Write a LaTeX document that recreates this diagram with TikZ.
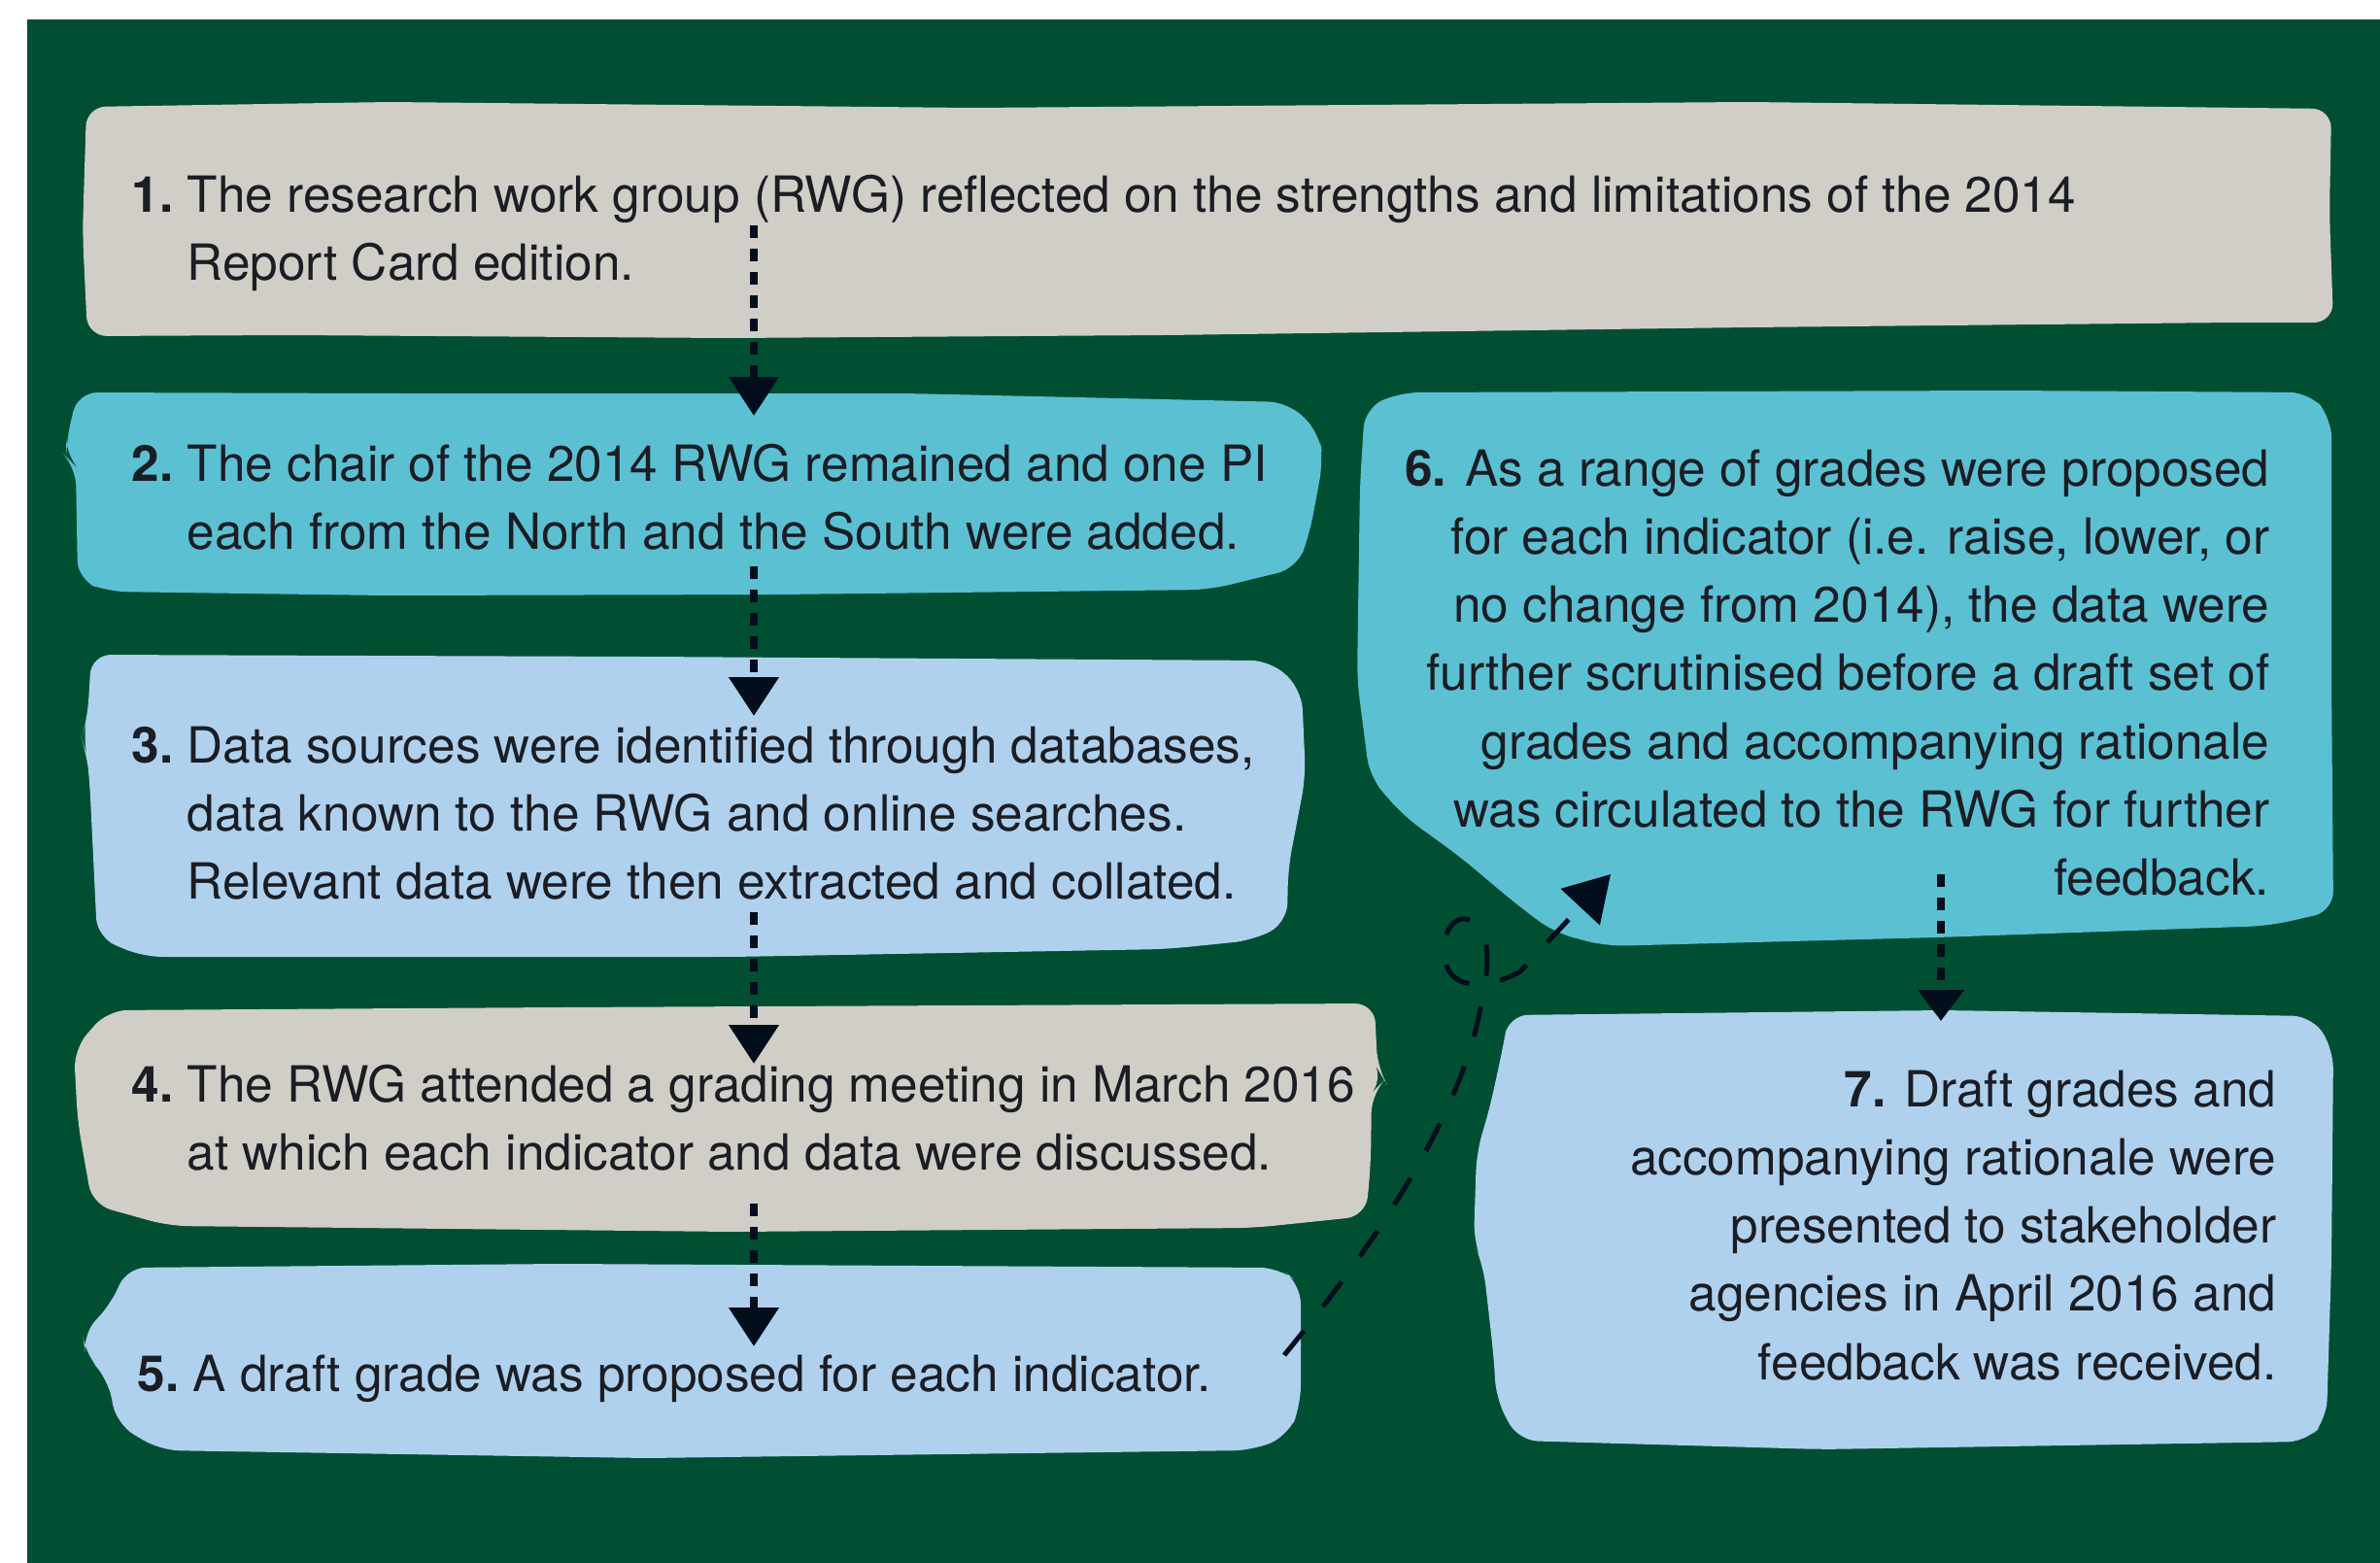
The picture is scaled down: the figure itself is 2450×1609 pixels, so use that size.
\documentclass[tikz,border=0pt]{standalone}
\usepackage{fontspec}
\setmainfont{TeX Gyre Heros}
\usetikzlibrary{arrows.meta}
\definecolor{bggreen}{HTML}{004F32}
\definecolor{boxgray}{HTML}{D1CEC7}
\definecolor{boxcyan}{HTML}{5CC0D3}
\definecolor{boxblue}{HTML}{AFD1EE}
\definecolor{txt}{HTML}{1B1D24}
\definecolor{arrowc}{HTML}{020E1C}
\tikzset{
  boxshape/.style={rounded corners=2mm},
  steptext/.style={inner sep=0pt, text=txt, font=\fontsize{14.6pt}{20pt}\selectfont},
  flow/.style={draw=arrowc, line width=0.8mm, dash pattern=on 1.25mm off 1.15mm,
    -{Triangle[length=4mm,width=5mm]}},
  smallflow/.style={draw=arrowc, line width=0.8mm, dash pattern=on 1.25mm off 1.15mm,
    -{Triangle[length=3.2mm,width=4.6mm]}},
  loopflow/.style={draw=arrowc, line width=0.5mm, dash pattern=on 3.2mm off 3.2mm,
    -{Triangle[length=4.6mm,width=5.4mm]}}
}
\begin{document}
\begin{tikzpicture}[x=0.1mm,y=-0.1mm]
\useasboundingbox (0,0) rectangle (2450,1609);
\fill[white] (0,0) rectangle (2450,1609);
\fill[bggreen] (28,20) rectangle (2450,1609);

% box 1
\fill[boxgray,boxshape] (89,110) -- (400,105) -- (1000,111) -- (1800,105) -- (2400,112)
  -- (2398,220) -- (2402,332) -- (2300,332) -- (1800,337) -- (1200,345) -- (750,348)
  -- (300,345) -- (90,346) -- (85,240) -- cycle;
% box 2
\fill[boxcyan,boxshape] (80,404) -- (400,405) -- (933,405) -- (1326,414) -- (1358,445)
  -- (1362,475) -- (1348,550) -- (1335,585) -- (1245,607) -- (800,612) -- (397,613)
  -- (111,609) -- (80,597) -- (78,480) -- (68,470) -- (68,455) -- cycle;
% box 3
\fill[boxblue,boxshape] (94,674) -- (665,676) -- (1308,680) -- (1340,710) -- (1344,800)
  -- (1326,894) -- (1325,950) -- (1290,968) -- (1201,977) -- (754,985) -- (147,985)
  -- (100,965) -- (92,800) -- (89,775) -- (84,760) -- (90,740) -- cycle;
% box 4
\fill[boxgray,boxshape] (111,1040) -- (576,1037) -- (1415,1033) -- (1418,1100) -- (1425,1112)
  -- (1412,1125) -- (1411,1200) -- (1406,1252) -- (1290,1264) -- (754,1268) -- (174,1262)
  -- (95,1240) -- (80,1155) -- (76,1080) -- cycle;
% box 5
\fill[boxblue,boxshape] (130,1305) -- (576,1301) -- (1317,1305) -- (1339,1322) -- (1339,1447)
  -- (1326,1478) -- (1290,1493) -- (665,1501) -- (165,1493) -- (120,1466) -- (111,1419)
  -- (88,1395) -- (85,1373) -- (115,1342) -- cycle;
% box 6
\fill[boxcyan,boxshape] (1441,404) -- (2063,402) -- (2377,404) -- (2400,430) -- (2400,700)
  -- (2402,938) -- (2336,953) -- (1994,965) -- (1653,974) -- (1600,960) -- (1560,930)
  -- (1503,882) -- (1445,840) -- (1410,800) -- (1397,700) -- (1400,498) -- (1405,420) -- cycle;
% box 7
\fill[boxblue,boxshape] (1553,1045) -- (2000,1040) -- (2380,1046) -- (2402,1080) -- (2400,1300)
  -- (2395,1461) -- (2375,1484) -- (1875,1492) -- (1563,1483) -- (1540,1440) -- (1538,1400)
  -- (1527,1303) -- (1517,1279) -- (1520,1186) -- (1533,1143) -- (1547,1079) -- cycle;

% texts
\node[steptext, anchor=base west] (t1) at (192,218) {\begin{tabular}[t]{@{}l@{}}\llap{\textbf{1.}\ }The research work group (RWG) reflected on the strengths and limitations of the 2014\\ Report Card edition.\end{tabular}};
\node[steptext, anchor=base west] (t2) at (192,495) {\begin{tabular}[t]{@{}l@{}}\llap{\textbf{2.}\ }The chair of the 2014 RWG remained and one PI\\ each from the North and the South were added.\end{tabular}};
\node[steptext, anchor=base west] (t3) at (192,785) {\begin{tabular}[t]{@{}l@{}}\llap{\textbf{3.}\ }Data sources were identified through databases,\\ data known to the RWG and online searches.\\ Relevant data were then extracted and collated.\end{tabular}};
\node[steptext, anchor=base west] (t4) at (192,1134) {\begin{tabular}[t]{@{}l@{}}\llap{\textbf{4.}\ }The RWG attended a grading meeting in March 2016\\ at which each indicator and data were discussed.\end{tabular}};
\node[steptext, anchor=base west] (t5) at (198,1432) {\llap{\textbf{5.}\ }A draft grade was proposed for each indicator.};
\node[steptext, anchor=base east] (t6) at (2337,500) {\begin{tabular}[t]{@{}r@{}}\textbf{6.} As a range of grades were proposed\\ for each indicator (i.e. raise, lower, or\\ no change from 2014), the data were\\ further scrutinised before a draft set of\\ grades and accompanying rationale\\ was circulated to the RWG for further\\ feedback.\end{tabular}};
\node[steptext, anchor=base east] (t7) at (2344,1139) {\begin{tabular}[t]{@{}r@{}}\textbf{7.} Draft grades and\\ accompanying rationale were\\ presented to stakeholder\\ agencies in April 2016 and\\ feedback was received.\end{tabular}};

% connector end points
\coordinate (a1s) at (776,232);
\coordinate (a1e) at (776,428);
\coordinate (a2s) at (776,583);
\coordinate (a2e) at (776,737);
\coordinate (a3s) at (776,939);
\coordinate (a3e) at (776,1095);
\coordinate (a4s) at (776,1239);
\coordinate (a4e) at (776,1386);
\coordinate (a5s) at (1998,900);
\coordinate (a5e) at (1998,1051);
\coordinate (a6s) at (1322,1395);
\coordinate (a6e) at (1658,900);

\draw[flow] (a1s) -- (a1e);
\draw[flow] (a2s) -- (a2e);
\draw[flow] (a3s) -- (a3e);
\draw[flow] (a4s) -- (a4e);
\draw[smallflow] (a5s) -- (a5e);
\draw[loopflow] (a6s) .. controls (1400,1300) and (1510,1150) .. (1527,1020)
  .. controls (1535,985) and (1532,947) .. (1507,946)
  .. controls (1484,946) and (1478,995) .. (1500,1008)
  .. controls (1515,1018) and (1545,1012) .. (1565,1000) -- (a6e);
\end{tikzpicture}
\end{document}
